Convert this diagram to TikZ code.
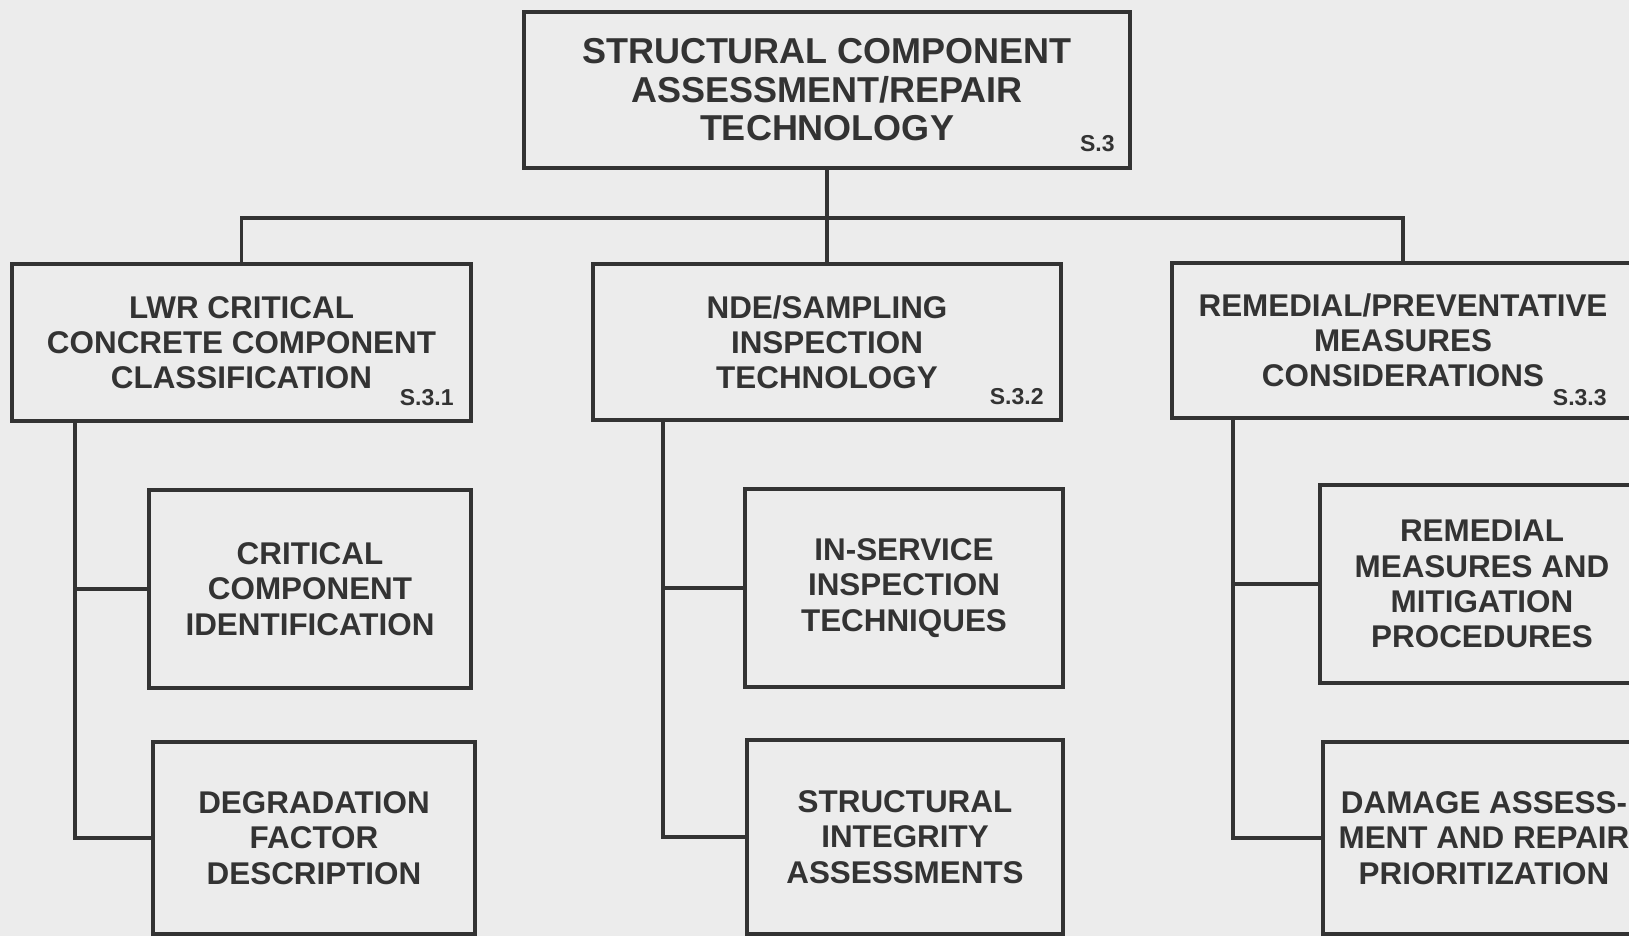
\documentclass[tikz,border=0pt]{standalone}
\usepackage{fontspec}
\setmainfont{Liberation Sans}
\definecolor{paper}{gray}{0.925}
\definecolor{ink}{gray}{0.2}

\begin{document}
    \begin{tikzpicture}[
            x=0.5pt, y=-0.5pt,
            wire/.style={draw=ink, line width=1.7pt},
            box/.style={wire, fill=paper, text=ink, align=center, inner sep=0pt,
                font=\bfseries\fontsize{15.7}{17.6}\selectfont},
            headbox/.style={box, font=\bfseries\fontsize{18}{19.3}\selectfont},
            tag/.style={text=ink, anchor=east, inner sep=0pt,
                font=\bfseries\fontsize{11.5}{12}\selectfont}
        ]
        \useasboundingbox (0,0) rectangle (1629,936);
        \clip (0,0) rectangle (1629,936);
        \fill[paper] (0,0) rectangle (1629,936);

        \node[headbox, minimum width=303pt, minimum height=78pt] (top) at (827,90)
            {STRUCTURAL COMPONENT\\ASSESSMENT/REPAIR\\TECHNOLOGY};

        \node[box, minimum width=229.5pt, minimum height=78.5pt] (lwr) at (241.5,342.5)
            {LWR CRITICAL\\CONCRETE COMPONENT\\CLASSIFICATION};
        \node[box, minimum width=234pt, minimum height=78pt] (nde) at (827,342)
            {NDE/SAMPLING\\INSPECTION\\TECHNOLOGY};
        \node[box, minimum width=231pt, minimum height=77.5pt] (rem) at (1403,340.5)
            {REMEDIAL/PREVENTATIVE\\MEASURES\\CONSIDERATIONS};

        \node[box, minimum width=161pt, minimum height=99pt] (ident) at (310,589)
            {CRITICAL\\COMPONENT\\IDENTIFICATION};
        \node[box, minimum width=161pt, minimum height=96pt] (degr) at (314,838)
            {DEGRADATION\\FACTOR\\DESCRIPTION};
        \node[box, minimum width=159pt, minimum height=99pt] (isi) at (904,588)
            {IN-SERVICE\\INSPECTION\\TECHNIQUES};
        \node[box, minimum width=158pt, minimum height=97pt] (sia) at (905,837)
            {STRUCTURAL\\INTEGRITY\\ASSESSMENTS};
        \node[box, minimum width=162pt, minimum height=99pt] (mitig) at (1482,584)
            {REMEDIAL\\MEASURES AND\\MITIGATION\\PROCEDURES};
        \node[box, minimum width=161pt, minimum height=96pt] (dam) at (1484,838)
            {DAMAGE ASSESS-\\MENT AND REPAIR\\PRIORITIZATION};

        \node[tag] (tag0) at (1115,144) {S.3};
        \node[tag] (tag1) at (454,398) {S.3.1};
        \node[tag] (tag2) at (1044,397) {S.3.2};
        \node[tag] (tag3) at (1607,398) {S.3.3};

        \coordinate (bar) at (827,218);
        \draw[wire] (top.south) -- (nde.north);
        \draw[wire] (lwr.north) |- (bar) -| (rem.north);

        \coordinate (s1) at (75,421);
        \coordinate (s2) at (663,420);
        \coordinate (s3) at (1233,418);
        \draw[wire] (s1) |- (degr.west);
        \draw[wire] (s1 |- ident.west) -- (ident.west);
        \draw[wire] (s2) |- (sia.west);
        \draw[wire] (s2 |- isi.west) -- (isi.west);
        \draw[wire] (s3) |- (dam.west);
        \draw[wire] (s3 |- mitig.west) -- (mitig.west);
    \end{tikzpicture}
\end{document}
